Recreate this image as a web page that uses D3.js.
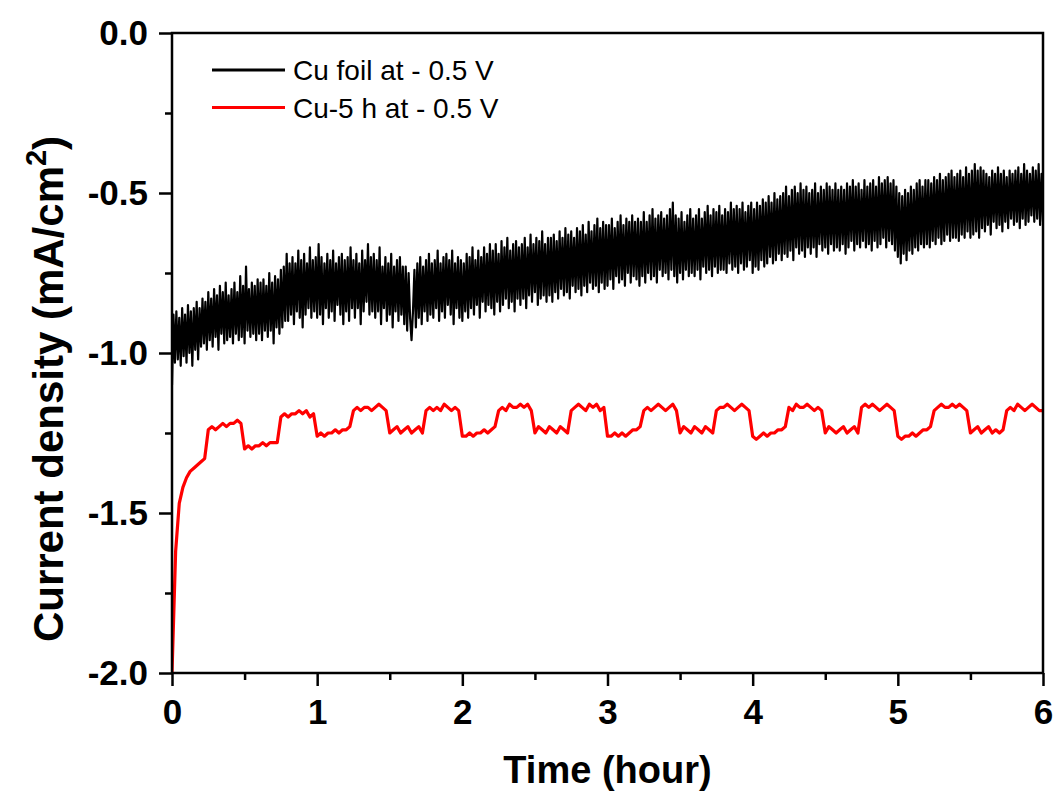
<!DOCTYPE html>
<html>
<head>
<meta charset="utf-8">
<script src="https://cdn.jsdelivr.net/npm/d3@7"></script>
<style>
  body { margin: 0; background: #fff; }
  text { font-family: "Liberation Sans", Arial, sans-serif; }
</style>
</head>
<body>
<script>
// black: Cu foil, sampled every 0.01 h
const foilStep = 0.01;
const foilValues = [
  -1.10, -0.88, -1.03, -0.87, -1.02, -0.89, -1.04, -0.86, -1.01, -0.88, -1.03, -0.85, -1.00, -0.87, -1.04, -0.86, -0.99, -0.84, -1.02, -0.86,
  -0.98, -0.83, -0.97, -0.84, -0.99, -0.81, -0.96, -0.83, -0.98, -0.80, -0.95, -0.82, -0.99, -0.79, -0.94, -0.81, -0.97, -0.78, -0.96, -0.82,
  -0.95, -0.80, -0.97, -0.78, -0.94, -0.81, -0.96, -0.76, -0.95, -0.79, -0.97, -0.73, -0.93, -0.80, -0.95, -0.78, -0.94, -0.79, -0.96, -0.77,
  -0.94, -0.78, -0.96, -0.77, -0.93, -0.79, -0.95, -0.75, -0.93, -0.78, -0.97, -0.76, -0.92, -0.77, -0.94, -0.74, -0.92, -0.73, -0.90, -0.69,
  -0.90, -0.72, -0.88, -0.70, -0.91, -0.72, -0.87, -0.68, -0.89, -0.71, -0.92, -0.69, -0.88, -0.72, -0.86, -0.67, -0.89, -0.71, -0.87, -0.70,
  -0.89, -0.66, -0.88, -0.70, -0.91, -0.72, -0.86, -0.69, -0.89, -0.71, -0.87, -0.68, -0.90, -0.72, -0.85, -0.70, -0.88, -0.69, -0.91, -0.71,
  -0.87, -0.70, -0.90, -0.67, -0.86, -0.71, -0.89, -0.69, -0.86, -0.72, -0.91, -0.68, -0.87, -0.71, -0.84, -0.66, -0.88, -0.70, -0.87, -0.69,
  -0.89, -0.71, -0.87, -0.67, -0.91, -0.73, -0.86, -0.70, -0.90, -0.72, -0.88, -0.69, -0.92, -0.73, -0.87, -0.71, -0.90, -0.70, -0.88, -0.73,
  -0.91, -0.73, -0.93, -0.75, -0.89, -0.96, -0.87, -0.74, -0.92, -0.72, -0.89, -0.70, -0.91, -0.73, -0.87, -0.71, -0.90, -0.69, -0.88, -0.72,
  -0.89, -0.71, -0.86, -0.68, -0.90, -0.72, -0.87, -0.70, -0.89, -0.69, -0.85, -0.71, -0.88, -0.68, -0.91, -0.72, -0.86, -0.70, -0.89, -0.71,
  -0.90, -0.72, -0.87, -0.69, -0.89, -0.70, -0.86, -0.67, -0.88, -0.71, -0.85, -0.68, -0.89, -0.70, -0.84, -0.67, -0.87, -0.69, -0.85, -0.66,
  -0.86, -0.68, -0.88, -0.66, -0.84, -0.69, -0.87, -0.65, -0.85, -0.67, -0.83, -0.64, -0.86, -0.68, -0.84, -0.66, -0.87, -0.65, -0.83, -0.67,
  -0.85, -0.66, -0.83, -0.64, -0.86, -0.67, -0.82, -0.63, -0.84, -0.66, -0.81, -0.64, -0.85, -0.65, -0.83, -0.62, -0.82, -0.66, -0.84, -0.64,
  -0.82, -0.64, -0.84, -0.63, -0.81, -0.65, -0.83, -0.62, -0.80, -0.64, -0.82, -0.61, -0.81, -0.63, -0.83, -0.62, -0.79, -0.64, -0.81, -0.61,
  -0.80, -0.62, -0.82, -0.60, -0.79, -0.63, -0.81, -0.59, -0.78, -0.62, -0.80, -0.60, -0.79, -0.58, -0.81, -0.61, -0.78, -0.59, -0.80, -0.60,
  -0.79, -0.60, -0.77, -0.58, -0.80, -0.61, -0.76, -0.59, -0.78, -0.57, -0.77, -0.60, -0.79, -0.58, -0.75, -0.59, -0.78, -0.57, -0.76, -0.59,
  -0.77, -0.58, -0.79, -0.59, -0.76, -0.56, -0.78, -0.59, -0.75, -0.57, -0.77, -0.55, -0.76, -0.58, -0.78, -0.57, -0.74, -0.56, -0.76, -0.58,
  -0.75, -0.57, -0.77, -0.55, -0.74, -0.53, -0.76, -0.57, -0.78, -0.58, -0.75, -0.56, -0.77, -0.59, -0.74, -0.57, -0.76, -0.55, -0.75, -0.58,
  -0.76, -0.57, -0.74, -0.55, -0.77, -0.58, -0.73, -0.56, -0.75, -0.54, -0.74, -0.57, -0.76, -0.55, -0.73, -0.56, -0.75, -0.54, -0.74, -0.57,
  -0.74, -0.55, -0.75, -0.56, -0.72, -0.53, -0.74, -0.55, -0.73, -0.54, -0.75, -0.55, -0.72, -0.53, -0.74, -0.56, -0.73, -0.54, -0.71, -0.53,
  -0.75, -0.55, -0.73, -0.53, -0.74, -0.54, -0.71, -0.52, -0.73, -0.53, -0.72, -0.51, -0.70, -0.53, -0.72, -0.50, -0.71, -0.52, -0.69, -0.51,
  -0.71, -0.50, -0.69, -0.48, -0.70, -0.51, -0.68, -0.49, -0.71, -0.48, -0.67, -0.50, -0.69, -0.47, -0.68, -0.49, -0.70, -0.48, -0.67, -0.50,
  -0.69, -0.49, -0.67, -0.47, -0.70, -0.50, -0.66, -0.48, -0.68, -0.49, -0.67, -0.47, -0.69, -0.48, -0.66, -0.49, -0.68, -0.47, -0.67, -0.49,
  -0.68, -0.48, -0.66, -0.49, -0.69, -0.47, -0.67, -0.48, -0.65, -0.46, -0.68, -0.48, -0.66, -0.47, -0.67, -0.49, -0.65, -0.46, -0.67, -0.48,
  -0.66, -0.47, -0.68, -0.46, -0.65, -0.48, -0.67, -0.45, -0.66, -0.47, -0.64, -0.46, -0.67, -0.45, -0.65, -0.47, -0.66, -0.46, -0.68, -0.48,
  -0.70, -0.50, -0.72, -0.51, -0.69, -0.49, -0.71, -0.50, -0.68, -0.48, -0.69, -0.49, -0.67, -0.47, -0.68, -0.46, -0.66, -0.48, -0.67, -0.46,
  -0.66, -0.46, -0.67, -0.47, -0.65, -0.45, -0.66, -0.46, -0.64, -0.44, -0.66, -0.46, -0.65, -0.45, -0.63, -0.44, -0.65, -0.43, -0.64, -0.45,
  -0.64, -0.44, -0.65, -0.43, -0.63, -0.45, -0.64, -0.42, -0.62, -0.44, -0.64, -0.43, -0.63, -0.41, -0.62, -0.43, -0.64, -0.42, -0.61, -0.43,
  -0.62, -0.44, -0.60, -0.45, -0.63, -0.43, -0.59, -0.44, -0.61, -0.42, -0.60, -0.44, -0.62, -0.43, -0.59, -0.45, -0.61, -0.43, -0.58, -0.44,
  -0.60, -0.43, -0.59, -0.42, -0.61, -0.44, -0.58, -0.41, -0.60, -0.43, -0.59, -0.44, -0.57, -0.42, -0.59, -0.43, -0.58, -0.41, -0.60, -0.44,
  -0.59
];

// red: Cu-5 h, sampled every 0.025 h
const cu5Step = 0.025;
const cu5Values = [
  -2.00, -1.62, -1.47, -1.42, -1.39, -1.37, -1.36, -1.35, -1.34, -1.33,
  -1.24, -1.23, -1.24, -1.23, -1.22, -1.23, -1.22, -1.22, -1.21, -1.22,
  -1.30, -1.29, -1.30, -1.29, -1.29, -1.28, -1.29, -1.28, -1.28, -1.28,
  -1.20, -1.19, -1.20, -1.19, -1.19, -1.18, -1.19, -1.18, -1.20, -1.19,
  -1.26, -1.25, -1.26, -1.25, -1.25, -1.24, -1.25, -1.24, -1.24, -1.23,
  -1.18, -1.17, -1.18, -1.17, -1.17, -1.18, -1.17, -1.16, -1.17, -1.18,
  -1.25, -1.24, -1.23, -1.25, -1.24, -1.23, -1.25, -1.24, -1.23, -1.25,
  -1.18, -1.17, -1.18, -1.17, -1.18, -1.16, -1.17, -1.18, -1.17, -1.18,
  -1.26, -1.26, -1.25, -1.26, -1.25, -1.25, -1.24, -1.25, -1.24, -1.23,
  -1.18, -1.17, -1.18, -1.16, -1.17, -1.17, -1.16, -1.17, -1.16, -1.18,
  -1.25, -1.23, -1.24, -1.25, -1.23, -1.24, -1.25, -1.23, -1.24, -1.25,
  -1.18, -1.17, -1.16, -1.17, -1.18, -1.16, -1.17, -1.16, -1.18, -1.17,
  -1.26, -1.26, -1.25, -1.26, -1.25, -1.26, -1.25, -1.24, -1.24, -1.23,
  -1.18, -1.17, -1.18, -1.17, -1.16, -1.17, -1.18, -1.17, -1.16, -1.18,
  -1.25, -1.23, -1.24, -1.25, -1.23, -1.24, -1.25, -1.23, -1.24, -1.25,
  -1.18, -1.17, -1.17, -1.16, -1.17, -1.18, -1.17, -1.16, -1.17, -1.18,
  -1.26, -1.27, -1.26, -1.25, -1.26, -1.25, -1.25, -1.24, -1.24, -1.23,
  -1.17, -1.18, -1.16, -1.17, -1.17, -1.16, -1.17, -1.18, -1.17, -1.18,
  -1.25, -1.23, -1.24, -1.25, -1.24, -1.23, -1.25, -1.24, -1.23, -1.25,
  -1.17, -1.16, -1.17, -1.16, -1.17, -1.18, -1.17, -1.16, -1.17, -1.18,
  -1.26, -1.27, -1.26, -1.26, -1.25, -1.26, -1.25, -1.24, -1.24, -1.23,
  -1.18, -1.17, -1.16, -1.17, -1.17, -1.16, -1.17, -1.16, -1.17, -1.18,
  -1.25, -1.24, -1.23, -1.25, -1.24, -1.23, -1.25, -1.24, -1.25, -1.24,
  -1.18, -1.17, -1.18, -1.16, -1.17, -1.18, -1.17, -1.16, -1.17, -1.18,
  -1.18
];

const seriesNames = ["Cu foil at - 0.5 V", "Cu-5 h at - 0.5 V"];
const seriesColors = ["#000000", "#ff0000"];
const xTicks = [0, 1, 2, 3, 4, 5, 6];
const yTicks = [0, -0.5, -1.0, -1.5, -2.0];

const w = 1059;
const h = 791;
const margin = { top: 33, right: 16, bottom: 118, left: 172 };

const svg = d3.select("body").append("svg").attr("width", w).attr("height", h);

const x = d3.scaleLinear().domain([0, 6]).range([margin.left, w - margin.right]);
const y = d3.scaleLinear().domain([-2, 0]).range([h - margin.bottom, margin.top]);

const foil = foilValues.map((v, i) => [i * foilStep, v]);
const cu5 = cu5Values.map((v, i) => [i * cu5Step, v]);

const line = d3.line().x((d) => x(d[0])).y((d) => y(d[1]));

svg.append("defs").append("clipPath").attr("id", "plot")
  .append("rect")
  .attr("x", x(0)).attr("y", y(0))
  .attr("width", x(6) - x(0)).attr("height", y(-2) - y(0));

const plot = svg.append("g").attr("clip-path", "url(#plot)");

plot.append("path").datum(foil)
  .attr("fill", "none").attr("stroke", seriesColors[0])
  .attr("stroke-width", 2.2).attr("stroke-linejoin", "round")
  .attr("d", line);

plot.append("path").datum(cu5)
  .attr("fill", "none").attr("stroke", seriesColors[1])
  .attr("stroke-width", 3.2).attr("stroke-linejoin", "round")
  .attr("d", line);

// frame
svg.append("rect")
  .attr("x", x(0)).attr("y", y(0))
  .attr("width", x(6) - x(0)).attr("height", y(-2) - y(0))
  .attr("fill", "none").attr("stroke", "#000").attr("stroke-width", 2.5);

// minor ticks
const xAxisMinor = d3.axisBottom(x).tickValues(d3.range(0.5, 6, 1)).tickSize(7).tickFormat("");
const yAxisMinor = d3.axisLeft(y).tickValues([-0.25, -0.75, -1.25, -1.75]).tickSize(7).tickFormat("");

svg.append("g").attr("transform", `translate(0,${y(-2)})`).call(xAxisMinor)
  .call((g) => g.select(".domain").remove())
  .selectAll("line").attr("stroke-width", 2.5);
svg.append("g").attr("transform", `translate(${x(0)},0)`).call(yAxisMinor)
  .call((g) => g.select(".domain").remove())
  .selectAll("line").attr("stroke-width", 2.5);

const fmtY = (d) => d3.format(".1f")(d).replace("\u2212", "-");

const xAxis = d3.axisBottom(x).tickValues(xTicks).tickSize(13).tickPadding(13).tickFormat(d3.format("d"));
const yAxis = d3.axisLeft(y).tickValues(yTicks).tickSize(13).tickPadding(11).tickFormat(fmtY);

const gx = svg.append("g").attr("transform", `translate(0,${y(-2)})`).call(xAxis);
gx.select(".domain").remove();
gx.selectAll("line").attr("stroke-width", 2.5);
gx.selectAll("text").attr("font-size", 35).attr("font-weight", "bold").attr("fill", "#000")
  .attr("font-family", "Liberation Sans, Arial, sans-serif");

const gy = svg.append("g").attr("transform", `translate(${x(0)},0)`).call(yAxis);
gy.select(".domain").remove();
gy.selectAll("line").attr("stroke-width", 2.5);
gy.selectAll("text").attr("font-size", 35).attr("font-weight", "bold").attr("fill", "#000")
  .attr("font-family", "Liberation Sans, Arial, sans-serif");

// axis titles
svg.append("text")
  .attr("x", (x(0) + x(6)) / 2).attr("y", 783)
  .attr("text-anchor", "middle").attr("font-size", 38).attr("font-weight", "bold")
  .text("Time (hour)");

const yt = svg.append("text")
  .attr("transform", `translate(63,389) rotate(-90)`)
  .attr("text-anchor", "middle").attr("font-size", 42).attr("font-weight", "bold");
yt.append("tspan").text("Current density (mA/cm");
yt.append("tspan").attr("font-size", 29).attr("dy", -17).text("2");
yt.append("tspan").attr("dy", 17).text(")");

// legend
const legend = svg.append("g").selectAll("g").data(seriesNames).join("g")
  .attr("transform", (d, i) => `translate(212,${70 + i * 37.5})`);
legend.append("line")
  .attr("x1", 0).attr("x2", 73)
  .attr("stroke", (d, i) => seriesColors[i]).attr("stroke-width", 3);
legend.append("text")
  .attr("x", 81).attr("dy", "0.36em")
  .attr("font-size", 28).attr("fill", "#000")
  .text((d) => d);
</script>
</body>
</html>
